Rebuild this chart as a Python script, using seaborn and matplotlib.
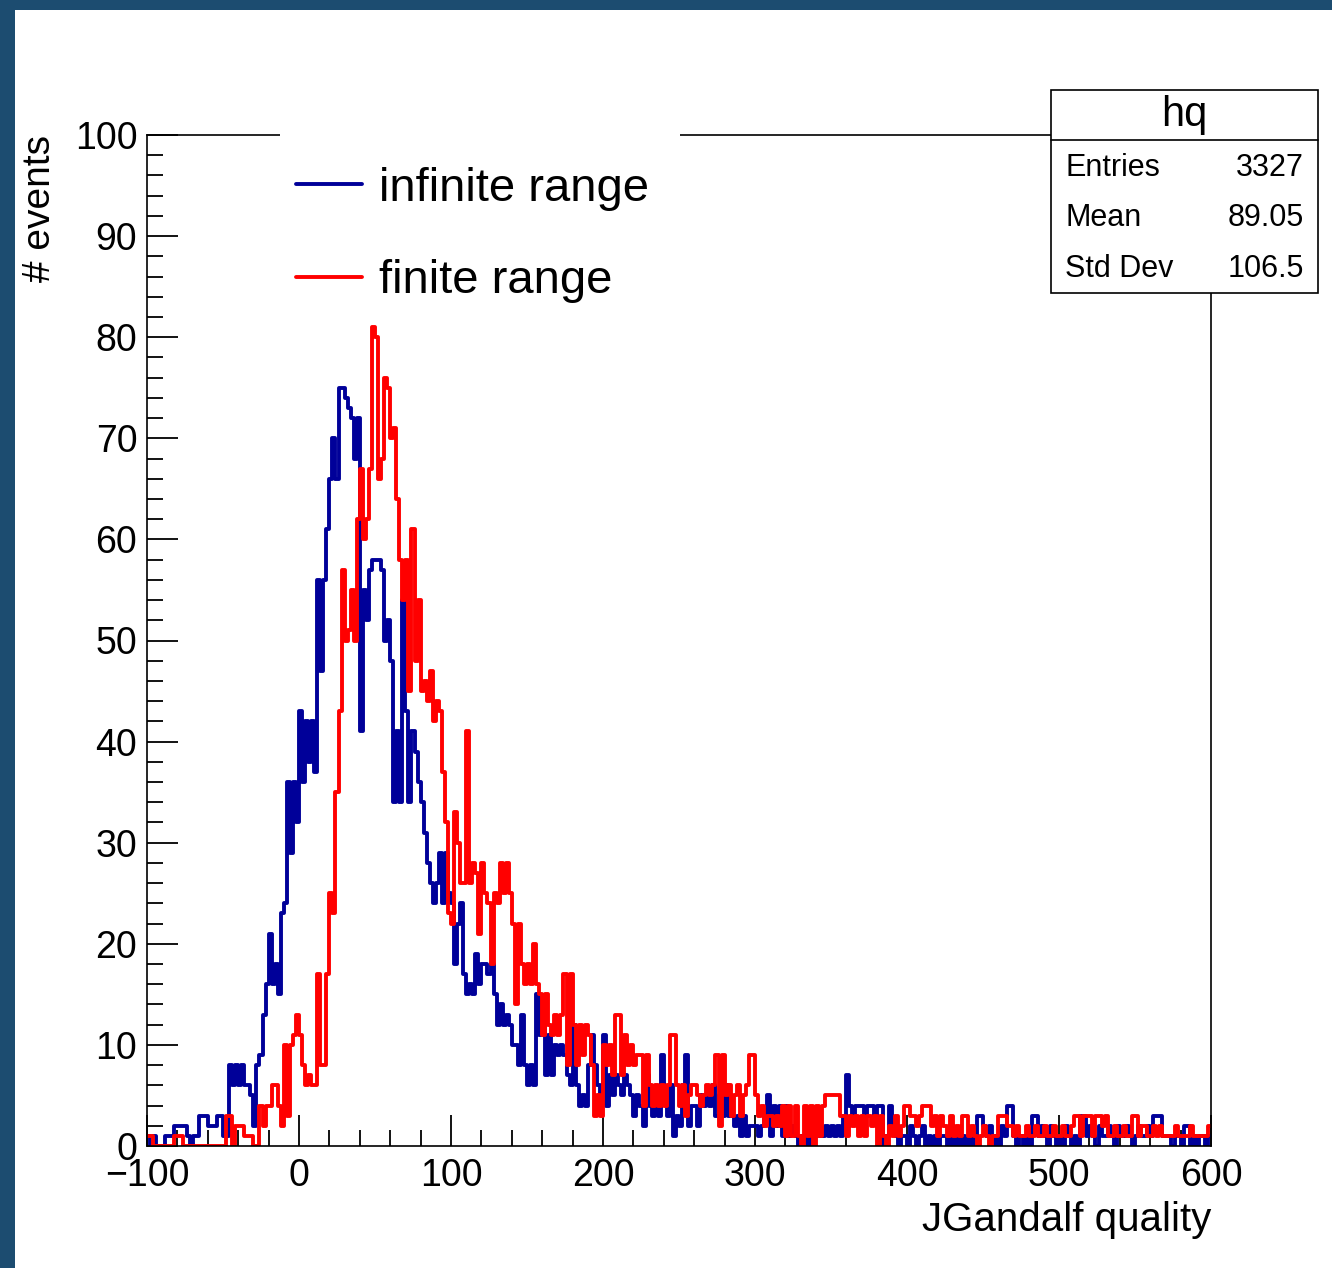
import numpy as np
import pandas as pd
import seaborn as sns
import matplotlib.pyplot as plt
from matplotlib.lines import Line2D
from matplotlib.patches import Rectangle
from matplotlib.ticker import MultipleLocator

# histogram binning: 350 bins of width 2 from -100 to 600
bin_lo, bin_hi, bin_w = -100, 600, 2

# counts per bin, "infinite range" (blue), rows of 10 bins = 20 units
infinite_counts = [
    1, 0, 1, 0, 0, 0, 1, 1, 1, 2,        # -100
    2, 2, 2, 1, 0, 1, 1, 3, 3, 3,        # -80
    2, 2, 2, 3, 3, 1, 1, 8, 6, 8,        # -60
    6, 8, 6, 6, 5, 2, 8, 9, 13, 16,      # -40
    21, 16, 18, 15, 23, 24, 36, 29, 36, 32,   # -20
    43, 36, 42, 38, 42, 37, 56, 47, 56, 61,   # 0
    66, 70, 66, 75, 75, 74, 73, 72, 68, 72,   # 20
    41, 55, 52, 57, 58, 58, 58, 57, 50, 52,   # 40
    48, 34, 41, 34, 54, 43, 34, 41, 39, 36,   # 60
    34, 31, 28, 26, 24, 26, 29, 24, 29, 25,   # 80
    24, 18, 22, 24, 17, 15, 16, 15, 19, 16,   # 100
    18, 18, 17, 18, 15, 12, 14, 12, 13, 12,   # 120
    10, 10, 8, 13, 8, 6, 8, 6, 15, 11,   # 140
    12, 7, 11, 7, 10, 9, 10, 9, 7, 6,    # 160
    12, 6, 4, 5, 4, 8, 11, 8, 6, 5,      # 180
    11, 4, 7, 5, 7, 6, 5, 7, 6, 5,       # 200
    3, 5, 4, 2, 7, 4, 3, 5, 3, 9,        # 220
    5, 3, 6, 1, 3, 2, 6, 9, 2, 4,        # 240
    4, 2, 5, 4, 5, 4, 6, 3, 5, 3,        # 260
    6, 3, 3, 2, 3, 1, 3, 1, 2, 2,        # 280
    2, 1, 2, 3, 5, 1, 4, 2, 4, 1,        # 300
    4, 1, 2, 1, 0, 1, 0, 1, 0, 1,        # 320
    2, 1, 1, 2, 1, 2, 1, 2, 1, 3,        # 340
    7, 4, 3, 4, 4, 4, 3, 4, 4, 3,        # 360
    4, 4, 0, 1, 4, 2, 1, 0, 1, 1,        # 380
    0, 2, 1, 0, 1, 2, 0, 1, 0, 1,        # 400
    0, 1, 1, 0, 1, 0, 1, 0, 1, 0,        # 420
    1, 0, 1, 3, 3, 2, 1, 2, 0, 1,        # 440
    0, 2, 1, 4, 4, 1, 0, 1, 0, 1,        # 460
    0, 3, 3, 1, 2, 1, 0, 2, 1, 0,        # 480
    1, 0, 2, 1, 0, 1, 0, 3, 3, 1,        # 500
    2, 1, 0, 2, 1, 1, 2, 1, 0, 2,        # 520
    1, 1, 2, 1, 0, 1, 2, 1, 1, 2,        # 540
    1, 3, 3, 3, 1, 1, 1, 0, 1, 1,        # 560
    0, 2, 2, 0, 1, 0, 1, 1, 0, 1,        # 580
]

# counts per bin, "finite range" (red)
finite_counts = [
    1, 1, 0, 0, 0, 0, 0, 0, 0, 1,        # -100
    1, 1, 0, 0, 0, 0, 0, 0, 0, 0,        # -80
    0, 0, 0, 0, 0, 0, 3, 3, 0, 2,        # -60
    2, 2, 1, 1, 1, 0, 0, 4, 2, 4,        # -40
    4, 6, 6, 4, 2, 10, 3, 10, 11, 13,    # -20
    11, 8, 6, 7, 6, 6, 17, 8, 8, 17,     # 0
    25, 23, 35, 43, 57, 50, 51, 55, 50, 62,   # 20
    67, 60, 62, 67, 81, 80, 66, 68, 76, 75,   # 40
    70, 71, 64, 58, 54, 58, 45, 61, 48, 54,   # 60
    45, 46, 44, 47, 42, 44, 43, 37, 32, 23,   # 80
    22, 33, 30, 26, 26, 41, 26, 28, 27, 21,   # 100
    28, 25, 24, 18, 25, 24, 28, 25, 28, 25,   # 120
    22, 14, 22, 18, 16, 18, 16, 20, 16, 15,   # 140
    11, 15, 12, 11, 13, 11, 13, 17, 8, 17,    # 160
    12, 8, 12, 9, 12, 11, 8, 3, 5, 3,    # 180
    10, 8, 10, 7, 13, 13, 7, 11, 8, 10,  # 200
    8, 9, 9, 4, 9, 6, 4, 6, 4, 6,        # 220
    4, 6, 11, 11, 6, 4, 6, 3, 5, 6,      # 240
    6, 5, 4, 5, 6, 5, 6, 9, 2, 9,        # 260
    5, 6, 3, 5, 6, 3, 5, 6, 9, 9,        # 280
    5, 3, 4, 2, 3, 3, 2, 3, 2, 4,        # 300
    1, 4, 1, 4, 1, 0, 4, 1, 4, 0,        # 320
    4, 1, 4, 5, 5, 5, 5, 5, 3, 3,        # 340
    1, 3, 2, 3, 1, 3, 1, 3, 2, 3,        # 360
    0, 3, 1, 0, 2, 1, 3, 1, 2, 4,        # 380
    4, 3, 3, 2, 3, 4, 4, 4, 2, 3,        # 400
    1, 3, 2, 1, 3, 1, 2, 1, 3, 3,        # 420
    1, 2, 1, 0, 1, 2, 1, 0, 1, 1,        # 440
    3, 3, 3, 2, 2, 1, 2, 1, 1, 2,        # 460
    1, 1, 2, 1, 1, 2, 1, 1, 2, 1,        # 480
    1, 2, 1, 1, 2, 3, 3, 1, 3, 3,        # 500
    3, 1, 3, 3, 2, 3, 1, 1, 2, 1,        # 520
    1, 2, 1, 1, 3, 3, 1, 2, 2, 1,        # 540
    1, 2, 1, 2, 1, 1, 1, 1, 2, 1,        # 560
    1, 1, 1, 2, 1, 1, 1, 1, 1, 2,        # 580
]

series_labels = ['infinite range', 'finite range']
series_colors = ['#000099', '#ff0000']

stats_title = 'hq'
stats_names = ['Entries', 'Mean', 'Std Dev']
stats_values = ['3327', '89.05', '106.5']

centers = np.arange(bin_lo, bin_hi, bin_w) + bin_w / 2

sns.set_style('white')
plt.rcParams['font.family'] = ['Liberation Sans', 'DejaVu Sans']
plt.rcParams['text.color'] = 'black'
plt.rcParams['axes.labelcolor'] = 'black'

W, H = 1332, 1268
fig = plt.figure(figsize=(W / 100, H / 100), dpi=100, facecolor='#1c4c70')

# white slide area
fig.patches.append(Rectangle((15 / W, 0), 1 - 15 / W, 1 - 10 / H, transform=fig.transFigure,
                             facecolor='white', edgecolor='none', zorder=-1))

ax = fig.add_axes([147 / W, 1 - 1146 / H, (1211 - 147) / W, (1146 - 135) / H])

lw = 2.8
for counts, col in zip([infinite_counts, finite_counts], series_colors):
    df = pd.DataFrame({'quality': centers, 'n': counts})
    sns.histplot(data=df, x='quality', weights='n', binwidth=bin_w, binrange=(bin_lo, bin_hi),
                 element='step', fill=False, color=col, linewidth=lw, ax=ax)

ax.set_xlim(bin_lo, bin_hi)
ax.set_ylim(0, 100)
for s in ax.spines.values():
    s.set_color('black')
    s.set_linewidth(1.2)

ax.xaxis.set_major_locator(MultipleLocator(100))
ax.xaxis.set_minor_locator(MultipleLocator(20))
ax.yaxis.set_major_locator(MultipleLocator(10))
ax.yaxis.set_minor_locator(MultipleLocator(2))
ax.tick_params(which='both', direction='in', bottom=True, left=True, top=False, right=False,
               width=1.3, colors='black')
ax.tick_params(which='major', length=22, labelsize=27)
ax.tick_params(which='minor', length=11.5)
ax.tick_params(axis='y', pad=7)
ax.tick_params(axis='x', pad=9)

ax.set_xlabel('JGandalf quality', loc='right', fontsize=29, labelpad=5)
ax.set_ylabel('# events', loc='top', fontsize=28)
ax.yaxis.set_label_coords(-0.084, 1.0)

# legend: white box breaking the top frame line
fig.patches.append(Rectangle((280 / W, 1 - 320 / H), 400 / W, 200 / H, transform=fig.transFigure,
                             facecolor='white', edgecolor='none', zorder=1))
handles = [Line2D([], [], color=c, lw=lw) for c in series_colors]
fig.legend(handles, series_labels, loc='upper left', bbox_to_anchor=(296 / W, 1 - 167 / H),
           frameon=False, fontsize=34, handlelength=1.4, handletextpad=0.35,
           labelspacing=1.02, borderpad=0, borderaxespad=0)

# stats box
bx0, bx1, by0, by1, bdiv = 1051, 1318, 90, 293, 140
fig.patches.append(Rectangle((bx0 / W, 1 - by1 / H), (bx1 - bx0) / W, (by1 - by0) / H,
                             transform=fig.transFigure, facecolor='white', edgecolor='black',
                             linewidth=1.2, zorder=2))
fig.lines.append(Line2D([bx0 / W, bx1 / W], [1 - bdiv / H] * 2, transform=fig.transFigure,
                        color='black', lw=1.2, zorder=3))
fig.text((bx0 + bx1) / 2 / W, 1 - 115 / H, stats_title, ha='center', va='center', fontsize=30, zorder=4)
for i, (name, val) in enumerate(zip(stats_names, stats_values)):
    yy = 1 - (168 + 50.5 * i) / H
    fig.text(1065 / W, yy, name, ha='left', va='center', fontsize=22, zorder=4)
    fig.text(1304 / W, yy, val, ha='right', va='center', fontsize=22, zorder=4)

fig.savefig('out.png', dpi=100, facecolor=fig.get_facecolor())
